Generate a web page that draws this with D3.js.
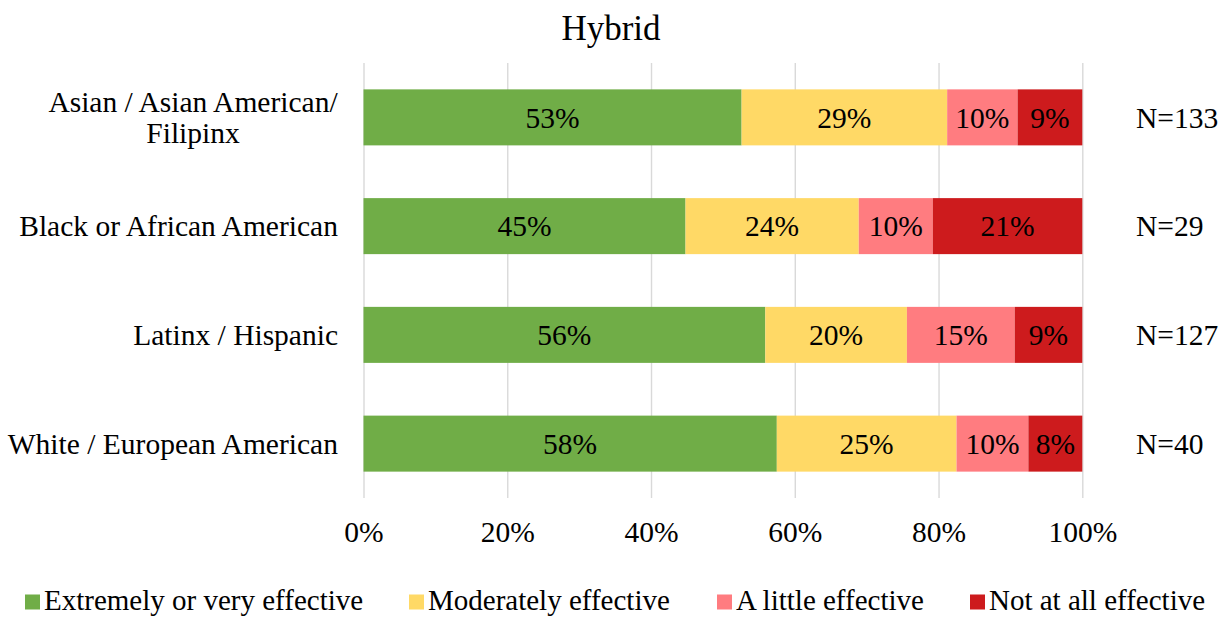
<!DOCTYPE html>
<html>
<head>
<meta charset="utf-8">
<script src="https://cdn.jsdelivr.net/npm/d3@7"></script>
<style>
  html, body { margin: 0; padding: 0; background: #fff; }
  svg { display: block; }
  text { font-family: "Liberation Serif", "Times New Roman", serif; fill: #000; }
</style>
</head>
<body>
<svg id="chart" width="1225" height="618"></svg>
<script>
// ---- data ----
const title = "Hybrid";
const categories = ["Asian / Asian American/|Filipinx", "Black or African American", "Latinx / Hispanic", "White / European American"];
const seriesNames = ["Extremely or very effective", "Moderately effective", "A little effective", "Not at all effective"];
const extremely = [52.6, 44.8, 55.9, 57.5];
const moderately = [28.6, 24.1, 19.7, 25.0];
const aLittle = [9.8, 10.3, 15.0, 10.0];
const notAtAll = [9.0, 20.8, 9.4, 7.5];
const nLabels = ["N=133", "N=29", "N=127", "N=40"];
const tickValues = [0, 20, 40, 60, 80, 100];
const colors = ["#70AD47", "#FFD966", "#FF7C80", "#CD1B1D"];

// ---- layout ----
const svg = d3.select("#chart");
const W = 1225, H = 618;
const plot = { left: 363.5, right: 1082.3, top: 63, bottom: 498 };
const FS = 29.5;

svg.append("rect").attr("width", W).attr("height", H).attr("fill", "#fff");

const x = d3.scaleLinear().domain([0, 100]).range([plot.left, plot.right]);
const y = d3.scaleBand().domain(categories).range([plot.top, plot.bottom])
  .paddingInner(0.485).paddingOuter(0.2425);
const color = d3.scaleOrdinal().domain(seriesNames).range(colors);

// gridlines + tick labels
const axis = d3.axisBottom(x).tickValues(tickValues).tickFormat(d => d + "%")
  .tickSize(-(plot.bottom - plot.top)).tickPadding(23);
const ax = svg.append("g").attr("transform", `translate(0,${plot.bottom})`).call(axis);
ax.select(".domain").remove();
ax.selectAll(".tick line").attr("stroke", "#d9d9d9").attr("stroke-width", 1.4);
ax.selectAll(".tick text").attr("font-size", FS).attr("font-family", "Liberation Serif").attr("fill", "#000");

// stacked data
const rows = categories.map((c, i) => ({
  cat: c,
  [seriesNames[0]]: extremely[i],
  [seriesNames[1]]: moderately[i],
  [seriesNames[2]]: aLittle[i],
  [seriesNames[3]]: notAtAll[i]
}));
const stack = d3.stack().keys(seriesNames)(rows);

const layers = svg.append("g").selectAll("g").data(stack).join("g")
  .attr("fill", d => color(d.key));
layers.selectAll("rect").data(d => d).join("rect")
  .attr("x", d => x(d[0]))
  .attr("y", d => y(d.data.cat))
  .attr("width", d => x(d[1]) - x(d[0]))
  .attr("height", y.bandwidth());

// segment labels
const lab = svg.append("g");
stack.forEach(layer => {
  layer.forEach(d => {
    lab.append("text")
      .attr("x", (x(d[0]) + x(d[1])) / 2)
      .attr("y", y(d.data.cat) + y.bandwidth() / 2)
      .attr("dy", "0.35em")
      .attr("text-anchor", "middle")
      .attr("font-size", FS)
      .text(Math.round(d[1] - d[0]) + "%");
  });
});

// category labels (right aligned block, lines centered)
const catG = svg.append("g");
categories.forEach(c => {
  const lines = c.split("|");
  const cy = y(c) + y.bandwidth() / 2;
  const lh = 31;
  const t = catG.append("text").attr("font-size", FS).attr("text-anchor", "middle");
  lines.forEach((ln, j) => {
    t.append("tspan").attr("x", 0)
      .attr("y", cy + (j - (lines.length - 1) / 2) * lh)
      .attr("dy", "0.35em").text(ln);
  });
  const bw = t.node().getBBox().width;
  t.attr("transform", `translate(${338 - bw / 2},0)`);
});

// N labels
categories.forEach((c, i) => {
  svg.append("text")
    .attr("x", 1136)
    .attr("y", y(c) + y.bandwidth() / 2)
    .attr("dy", "0.35em")
    .attr("font-size", FS)
    .text(nLabels[i]);
});

// title
svg.append("text").attr("x", 611).attr("y", 40).attr("text-anchor", "middle")
  .attr("font-size", 35).text(title);

// legend
const legY = 600;
const legX = [25, 409, 717, 970];
seriesNames.forEach((s, i) => {
  const g = svg.append("g").attr("transform", `translate(${legX[i]},0)`);
  g.append("rect").attr("x", 0).attr("y", legY - 5.5).attr("width", 15).attr("height", 15).attr("fill", color(s));
  g.append("text").attr("x", 19).attr("y", legY).attr("dy", "0.35em").attr("font-size", 29).text(s);
});
</script>
</body>
</html>
